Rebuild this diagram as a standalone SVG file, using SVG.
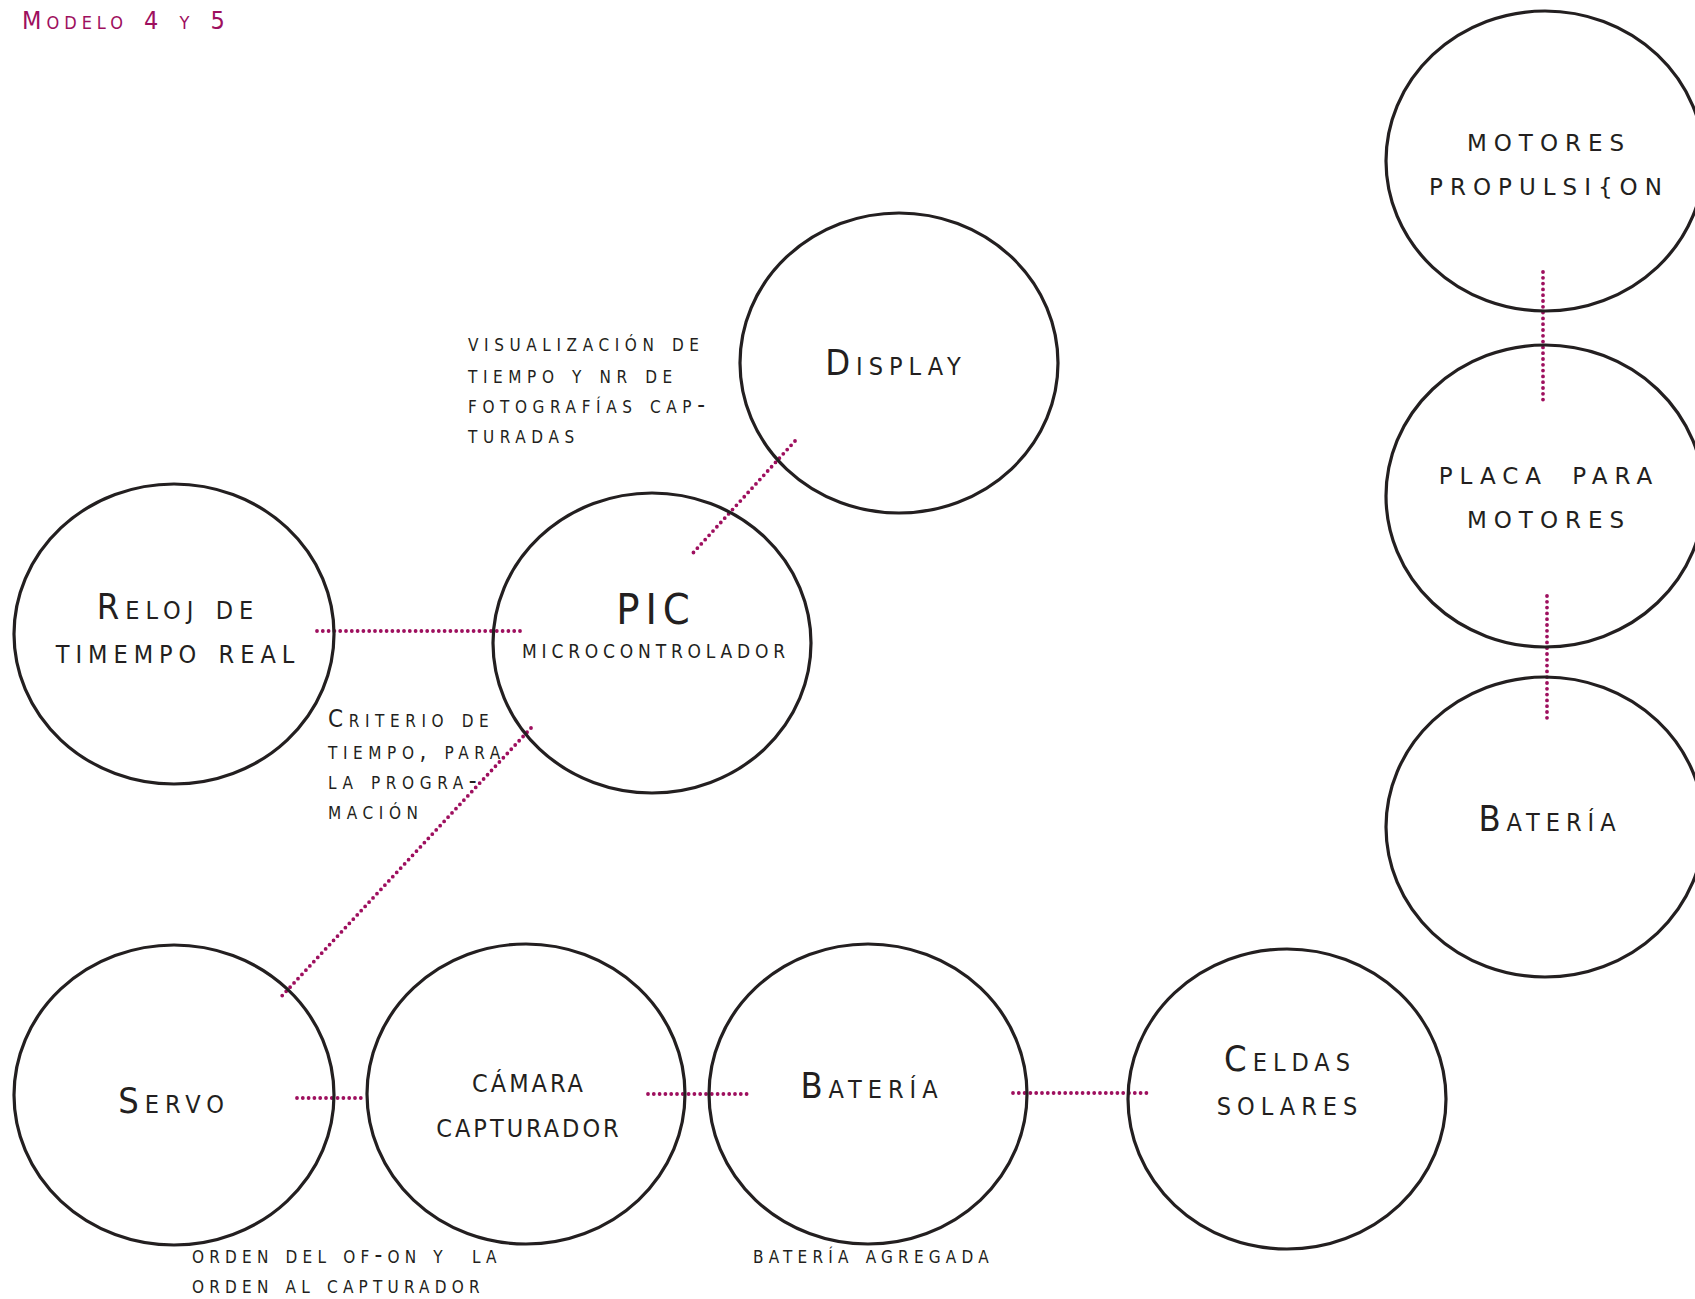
<svg xmlns="http://www.w3.org/2000/svg" width="1695" height="1299" viewBox="0 0 1695 1299">
  <style>
    .node { fill: none; stroke: #231f20; stroke-width: 3.2; }
    .t { font-family: "DejaVu Sans Condensed", "Liberation Sans Narrow", "Liberation Sans", sans-serif; font-variant: small-caps; fill: #231f20; }
    .lbl { font-size: 36px; letter-spacing: 6px; text-anchor: middle; }
    .sub { font-size: 27px; letter-spacing: 4.8px; text-anchor: middle; }
    .note { font-size: 24px; letter-spacing: 5.6px; white-space: pre; }
    .tight { letter-spacing: 5.2px; }
    .narrow { letter-spacing: 3px; }
    .caps { font-family: "DejaVu Sans", "Liberation Sans", sans-serif; font-size: 23px; letter-spacing: 7px; text-anchor: middle; fill: #231f20; }
    .link { fill: none; stroke: #9e0f5e; stroke-width: 3.8; stroke-linecap: round; stroke-dasharray: 0 5.8; }
    .title { font-family: "DejaVu Sans Condensed", "Liberation Sans Narrow", "Liberation Sans", sans-serif; font-variant: small-caps; font-size: 25px; letter-spacing: 5px; word-spacing: 4px; fill: #9e0f5e; }
  </style>

  <text class="title" x="22" y="29">Modelo 4 y 5</text>

  <!-- dotted links between components -->
  <g id="connectors">
    <line class="link" x1="1543" y1="272" x2="1543" y2="400"/>
    <line class="link" x1="1547" y1="596" x2="1547" y2="721"/>
    <line class="link" x1="795" y1="441" x2="693" y2="553"/>
    <line class="link" x1="317" y1="631" x2="522" y2="631"/>
    <line class="link" x1="531" y1="728" x2="280" y2="998"/>
    <line class="link" x1="297" y1="1098" x2="365" y2="1098"/>
    <line class="link" x1="648" y1="1094" x2="750" y2="1094"/>
    <line class="link" x1="1013" y1="1093" x2="1147" y2="1093"/>
  </g>

  <g id="motores">
    <ellipse class="node" cx="1545" cy="161" rx="159" ry="150"/>
    <text class="caps" x="1549" y="151">MOTORES</text>
    <text class="caps" x="1549" y="195">PROPULSI{ON</text>
  </g>

  <g id="placa">
    <ellipse class="node" cx="1545" cy="496" rx="159" ry="151"/>
    <text class="caps" x="1549" y="484" word-spacing="10">PLACA PARA</text>
    <text class="caps" x="1549" y="528">MOTORES</text>
  </g>

  <g id="bateria-motores">
    <ellipse class="node" cx="1545" cy="827" rx="159" ry="150"/>
    <text class="t lbl" x="1550" y="831">Batería</text>
  </g>

  <g id="display">
    <ellipse class="node" cx="899" cy="363" rx="159" ry="150"/>
    <text class="t lbl" x="896" y="375">Display</text>
  </g>

  <g id="nota-display">
    <text class="t note" x="468" y="351">visualización de</text>
    <text class="t note" x="468" y="383">tiempo y nr de</text>
    <text class="t note" x="468" y="413">fotografías cap-</text>
    <text class="t note" x="468" y="443">turadas</text>
  </g>

  <g id="pic">
    <ellipse class="node" cx="652" cy="643" rx="159" ry="150"/>
    <text class="t" x="656" y="624" font-size="43" letter-spacing="6" text-anchor="middle">PIC</text>
    <text class="t sub" x="656" y="658">microcontrolador</text>
  </g>

  <g id="reloj">
    <ellipse class="node" cx="174" cy="634" rx="160" ry="150"/>
    <text class="t lbl" x="178" y="619">Reloj de</text>
    <text class="t lbl" x="178" y="663">timempo real</text>
  </g>

  <g id="nota-reloj">
    <text class="t note" x="328" y="727">Criterio de</text>
    <text class="t note" x="328" y="759">tiempo, para</text>
    <text class="t note" x="328" y="789">la progra-</text>
    <text class="t note" x="328" y="819">mación</text>
  </g>

  <g id="servo">
    <ellipse class="node" cx="174" cy="1095" rx="160" ry="150"/>
    <text class="t lbl" x="174" y="1113">Servo</text>
  </g>

  <g id="camara">
    <ellipse class="node" cx="526" cy="1094" rx="159" ry="150"/>
    <text class="t lbl narrow" x="529" y="1092">cámara</text>
    <text class="t lbl narrow" x="529" y="1137">capturador</text>
  </g>

  <g id="nota-servo">
    <text class="t note tight" x="192" y="1263">orden del of-on y  la</text>
    <text class="t note tight" x="192" y="1293">orden al capturador</text>
  </g>

  <g id="bateria">
    <ellipse class="node" cx="868" cy="1094" rx="159" ry="150"/>
    <text class="t lbl" x="872" y="1098">Batería</text>
  </g>

  <g id="nota-bateria">
    <text class="t note tight" x="753" y="1263">batería agregada</text>
  </g>

  <g id="celdas">
    <ellipse class="node" cx="1287" cy="1099" rx="159" ry="150"/>
    <text class="t lbl" x="1290" y="1071">Celdas</text>
    <text class="t lbl" x="1290" y="1115">solares</text>
  </g>
</svg>
